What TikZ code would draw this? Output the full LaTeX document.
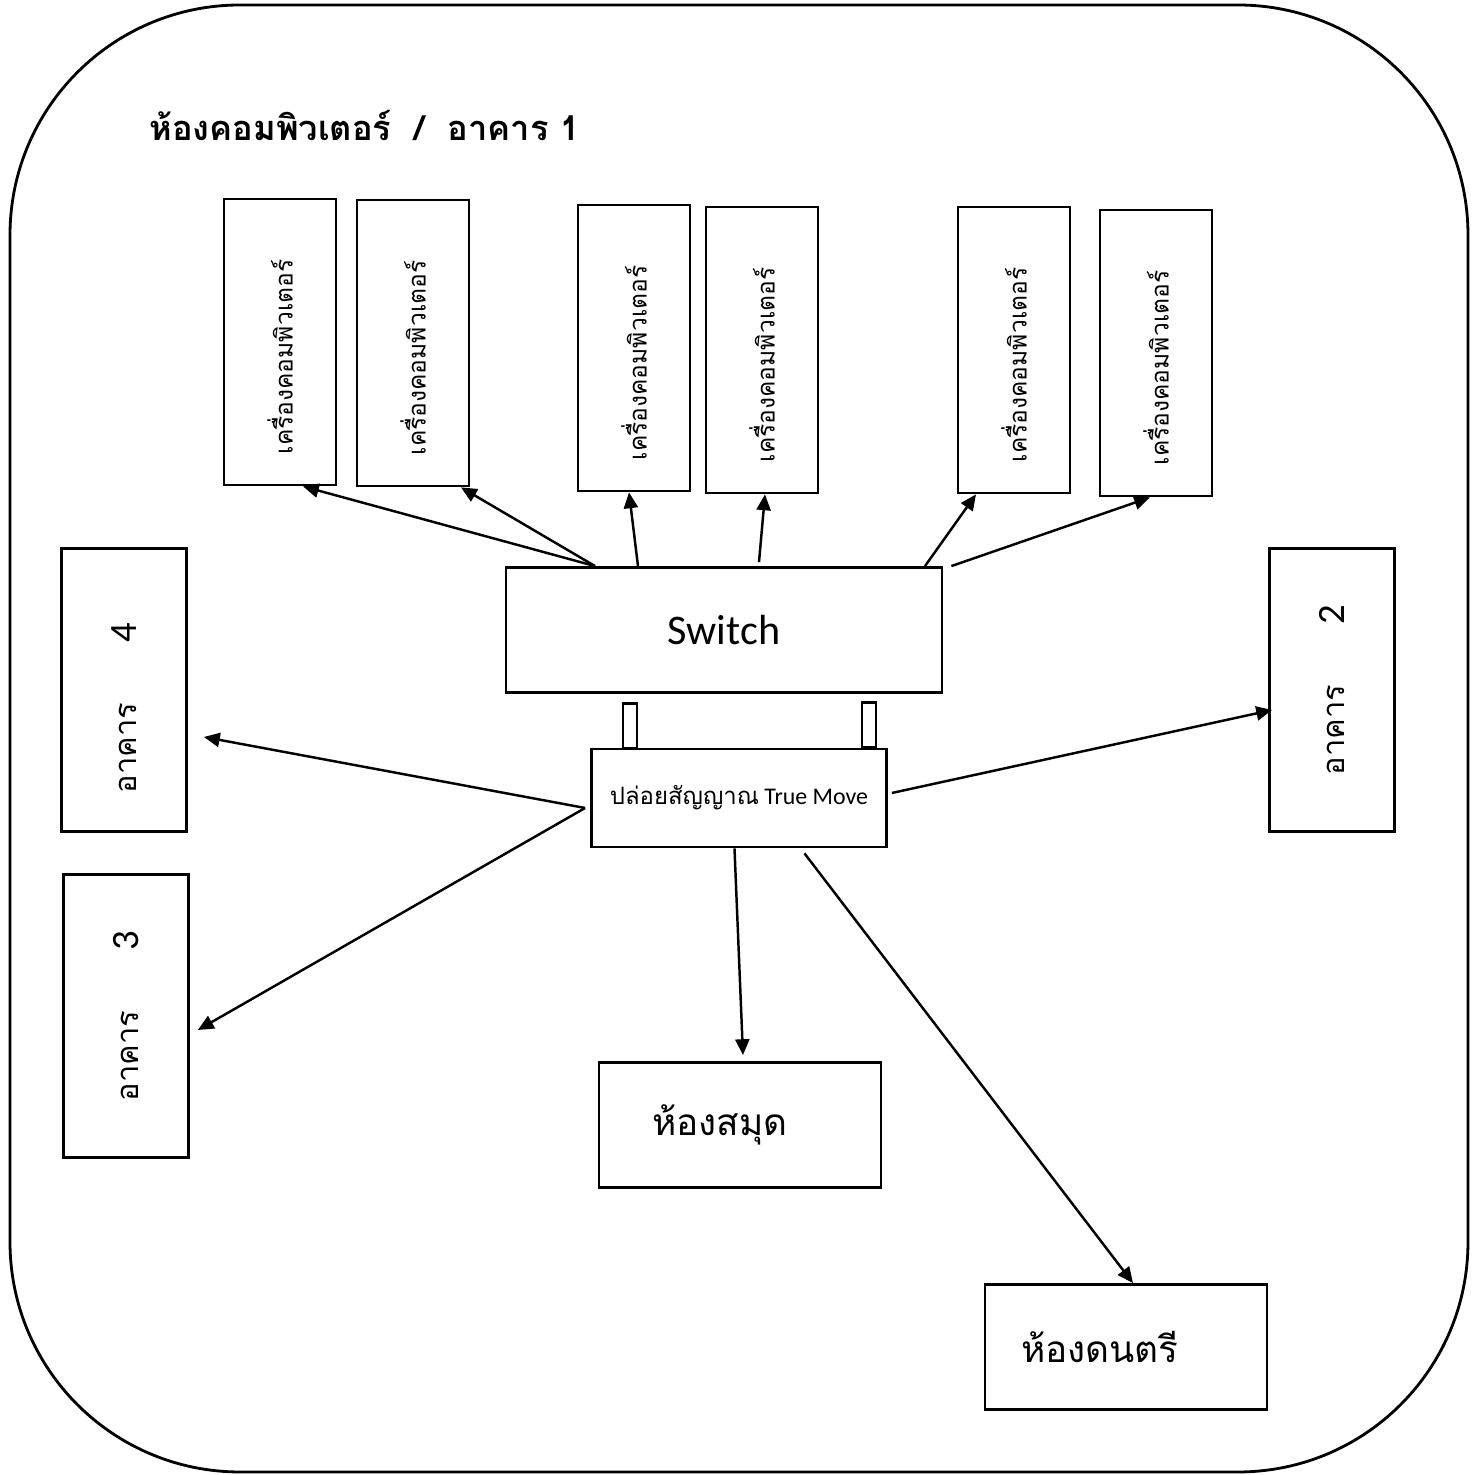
\documentclass[tikz,border=0pt]{standalone}
\usepackage{fontspec}
\usepackage{graphicx}
\setmainfont{Carlito}
\newfontfamily\thaifont[Script=Thai]{Loma}
\usetikzlibrary{arrows.meta}

\begin{document}
\begin{tikzpicture}[
	x=0.1mm, y=-0.1mm,
	box/.style={rectangle, draw, line width=0.8pt, inner sep=0pt},
	pc/.style={box, minimum width=11.2mm, minimum height=28.6mm, font=\thaifont\fontsize{7}{9}\selectfont},
	building/.style={box, minimum width=12.5mm, minimum height=28.3mm, font=\thaifont\fontsize{8.8}{11}\selectfont},
	room/.style={box, minimum width=28.2mm, minimum height=12.5mm, font=\thaifont\fontsize{10.5}{13}\selectfont},
	antenna/.style={box, minimum width=1.4mm, minimum height=4.5mm},
	arrow/.style={-{Triangle[length=4.5pt, width=4pt]}, line width=0.7pt},
	]

	\useasboundingbox (0,0) rectangle (1481,1475);
	\draw[line width=0.8pt, rounded corners=23mm] (10,5) rectangle (1468,1472);

	% Nodes
	\node (title) [anchor=west, font=\thaifont\bfseries\fontsize{9.8}{12}\selectfont] at (137,125) {ห้องคอมพิวเตอร์\ \ /\ \ อาคาร 1};

	\node (pc1) [pc] at (280,342) {\rotatebox{90}{เครื่องคอมพิวเตอร์\hspace{3mm}}};
	\node (pc2) [pc] at (413,343) {\rotatebox{90}{เครื่องคอมพิวเตอร์\hspace{3mm}}};
	\node (pc3) [pc] at (634,348) {\rotatebox{90}{เครื่องคอมพิวเตอร์\hspace{3mm}}};
	\node (pc4) [pc] at (762,350) {\rotatebox{90}{เครื่องคอมพิวเตอร์\hspace{3mm}}};
	\node (pc5) [pc] at (1014,350) {\rotatebox{90}{เครื่องคอมพิวเตอร์\hspace{3mm}}};
	\node (pc6) [pc] at (1156,353) {\rotatebox{90}{เครื่องคอมพิวเตอร์\hspace{3mm}}};

	\node (switch) [box, minimum width=43.6mm, minimum height=12.5mm, font=\fontsize{12}{14}\selectfont] at (724,630) {Switch};
	\node (ant1) [antenna] at (630,726) {};
	\node (ant2) [antenna] at (869,725) {};
	\node (router) [box, minimum width=29.5mm, minimum height=9.8mm, font=\fontsize{6.8}{9}\selectfont] at (739,798) {{\thaifont ปล่อยสัญญาณ} True Move};

	\node (bld4) [building] at (124,690) {\rotatebox{90}{อาคาร\hspace{6mm}{\rmfamily\fontsize{11}{13}\selectfont 4}\hspace{3.6mm}}};
	\node (bld3) [building] at (126,1016) {\rotatebox{90}{อาคาร\hspace{6mm}{\rmfamily\fontsize{11}{13}\selectfont 3}}};
	\node (bld2) [building] at (1332,690) {\rotatebox{90}{อาคาร\hspace{6mm}{\rmfamily\fontsize{11}{13}\selectfont 2}}};

	\node (library) [room] at (740,1125) {ห้องสมุด\hspace*{4mm}};
	\node (music) [room] at (1126,1347) {ห้องดนตรี\hspace*{5.2mm}};

	% Arrows
	\draw[arrow] ([xshift=-12.9mm]switch.north) -- ([xshift=2.3mm]pc1.south);
	\draw[arrow] ([xshift=-12.9mm]switch.north) -- ([xshift=4.8mm]pc2.south);
	\draw[arrow] ([xshift=-8.6mm]switch.north) -- ([xshift=-0.5mm]pc3.south);
	\draw[arrow] ([xshift=3.5mm,yshift=0.4mm]switch.north) -- ([xshift=0.3mm]pc4.south);
	\draw[arrow] ([xshift=20.1mm]switch.north) -- ([xshift=-3.8mm]pc5.south);
	\draw[arrow] ([xshift=0.8mm]switch.north east) -- ([xshift=-0.6mm]pc6.south);

	\draw[arrow] ([xshift=-0.5mm,yshift=-1mm]router.west) -- ([xshift=1.6mm,yshift=-4.7mm]bld4.east);
	\draw[arrow] ([xshift=-0.5mm,yshift=-1mm]router.west) -- ([xshift=0.8mm,yshift=-1.4mm]bld3.east);
	\draw[arrow] ([xshift=0.4mm,yshift=0.5mm]router.east) -- ([xshift=0.4mm,yshift=-2mm]bld2.west);
	\draw[arrow] ([xshift=-0.45mm]router.south) -- ([xshift=0.3mm,yshift=0.6mm]library.north);
	\draw[arrow] ([xshift=6.55mm,yshift=-0.5mm]router.south) -- ([xshift=0.7mm]music.north);
\end{tikzpicture}
\end{document}
